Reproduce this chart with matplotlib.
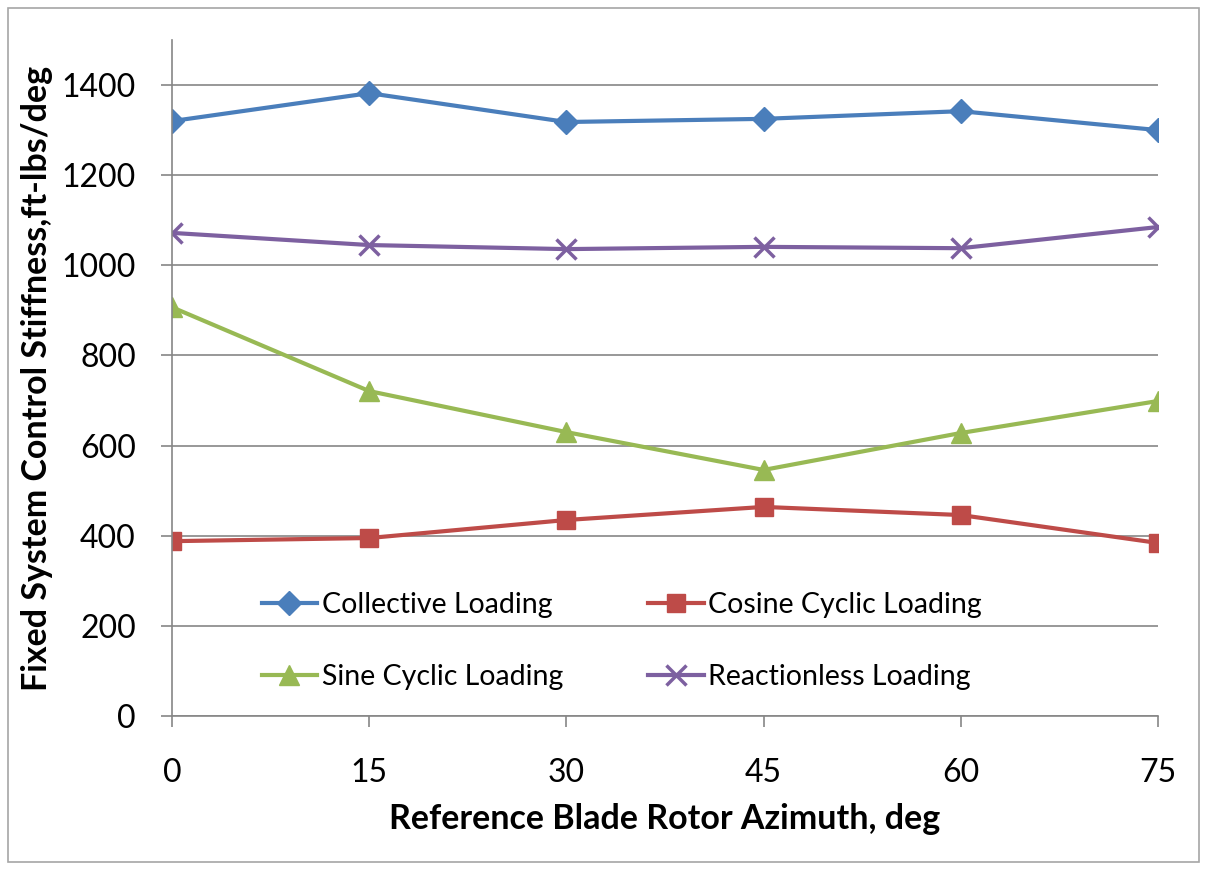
import matplotlib.pyplot as plt
from matplotlib.patches import Rectangle

azimuth = [0, 15, 30, 45, 60, 75]
collective = [1320, 1382, 1318, 1325, 1342, 1300]
cosine = [388, 395, 435, 464, 446, 384]
sine = [907, 721, 630, 546, 628, 699]
reactionless = [1072, 1045, 1036, 1041, 1038, 1085]

plt.rcParams['font.family'] = ['Lato', 'DejaVu Sans']

fig = plt.figure(figsize=(12.07, 8.69), dpi=100)
ax = fig.add_axes([0.1425, 0.176, 0.8169, 0.778])

# outer chart frame like the Excel chart area
fig.patches.append(Rectangle((0.007, 0.008), 0.986, 0.983, transform=fig.transFigure,
                             fill=False, edgecolor='#a6a6a6', linewidth=1.2))

l1, = ax.plot(azimuth, collective, color='#4A7EBB', lw=3, marker='D', ms=12, label='Collective Loading')
l2, = ax.plot(azimuth, cosine, color='#BE4B48', lw=3, marker='s', ms=13, label='Cosine Cyclic Loading')
l3, = ax.plot(azimuth, sine, color='#98B954', lw=3, marker='^', ms=14, label='Sine Cyclic Loading')
l4, = ax.plot(azimuth, reactionless, color='#7D60A0', lw=3, marker='x', ms=14, mew=2.5, label='Reactionless Loading')

ax.set_xlim(0, 75)
ax.set_ylim(0, 1500)
ax.set_xticks(azimuth)
ax.set_yticks(range(0, 1401, 200))
ax.grid(axis='y', color='#868686', lw=1.2)
ax.set_axisbelow(True)
for s in ['top', 'right']:
    ax.spines[s].set_visible(False)
for s in ['left', 'bottom']:
    ax.spines[s].set_color('#868686')
    ax.spines[s].set_linewidth(1.2)
ax.tick_params(axis='both', labelsize=23, color='#868686', length=8, width=1.2)
ax.tick_params(axis='y', pad=18)
ax.tick_params(axis='x', pad=22)

ax.set_xlabel('Reference Blade Rotor Azimuth, deg', fontsize=24.5, fontweight='bold', labelpad=11)
ax.set_ylabel('Fixed System Control Stiffness,ft-lbs/deg', fontsize=24.5, fontweight='bold', labelpad=6)

# row-wise order like Excel: matplotlib fills columns first
ax.legend([l1, l3, l2, l4], [l.get_label() for l in [l1, l3, l2, l4]],
          loc='lower left', bbox_to_anchor=(0.065, 0.0), ncol=2, frameon=False, fontsize=20.5,
          handlelength=1.95, handletextpad=0.15, columnspacing=3.0, labelspacing=1.62)

fig.savefig('out.png', dpi=100)
